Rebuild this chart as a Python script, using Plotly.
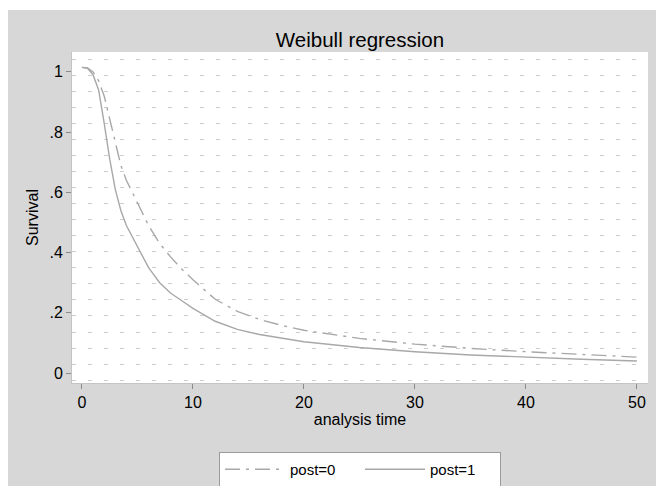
import plotly.graph_objects as go

# analysis time points
t_vals = [0, 0.5, 1, 1.5, 2, 2.5, 3, 3.5, 4, 5, 6, 7, 8, 9, 10, 12, 14, 16, 18, 20, 25, 30, 35, 40, 45, 50]
# survival, post=0 (dash-dot)
surv_post0 = [1.015, 1.013, 1.0, 0.97, 0.92, 0.84, 0.76, 0.69, 0.64, 0.565, 0.49, 0.43, 0.385, 0.345, 0.31,
              0.245, 0.205, 0.178, 0.158, 0.142, 0.115, 0.096, 0.082, 0.071, 0.061, 0.053]
# survival, post=1 (solid)
surv_post1 = [1.015, 1.012, 0.99, 0.94, 0.83, 0.71, 0.61, 0.54, 0.49, 0.42, 0.35, 0.30, 0.265, 0.24, 0.215,
              0.172, 0.145, 0.128, 0.115, 0.104, 0.085, 0.071, 0.060, 0.052, 0.046, 0.040]

x_ticks = [0, 10, 20, 30, 40, 50]
y_ticks = [0, 0.2, 0.4, 0.6, 0.8, 1]
y_tick_text = ["0", ".2", ".4", ".6", ".8", "1"]

fig = go.Figure()
fig.add_trace(go.Scatter(x=t_vals, y=surv_post0, mode="lines", name="post=0",
                         line=dict(color="#a8a8a8", width=1.4, dash="longdashdot")))
fig.add_trace(go.Scatter(x=t_vals, y=surv_post1, mode="lines", name="post=1",
                         line=dict(color="#a8a8a8", width=1.4)))

font = "Liberation Sans, Arial, sans-serif"
L, R, T, B = 64, 24, 44, 111
PW, PH = 664 - L - R, 486 - T - B
fig.update_layout(
    width=664, height=486,
    margin=dict(l=L, r=R, t=T, b=B, autoexpand=False),
    paper_bgcolor="#d7d7d7",
    plot_bgcolor="white",
    font=dict(family=font, size=15, color="black"),
    title=dict(text="Weibull regression", x=(L + PW / 2) / 664, xanchor="center",
               y=1 - 32 / 486, yanchor="middle", font=dict(size=20.5, color="black")),
    showlegend=True,
    legend=dict(orientation="h", x=0.5, xanchor="center", y=(PH - (444 - T)) / PH, yanchor="top",
                bgcolor="white", bordercolor="#9a9a9a", borderwidth=1,
                font=dict(size=15), itemwidth=60, entrywidth=65, traceorder="normal"),
    xaxis=dict(range=[-0.9, 51], tickvals=x_ticks, ticks="outside", ticklen=5,
               tickcolor="#8a8a8a", showgrid=False, zeroline=False, automargin=False,
               showline=True, linecolor="#c4c4c4", linewidth=1,
               title=dict(text="analysis time", standoff=3, font=dict(size=16)),
               tickfont=dict(size=16)),
    yaxis=dict(range=[-0.033, 1.066], tickvals=y_ticks, ticktext=y_tick_text,
               ticks="outside", ticklen=5, tickcolor="#8a8a8a", showgrid=False,
               zeroline=False, showline=True, linecolor="#c4c4c4", linewidth=1,
               automargin=False,
               title=dict(text="Survival", standoff=6, font=dict(size=16)),
               tickfont=dict(size=16),
               minor=dict(tick0=-0.0233, dtick=0.0532, showgrid=True, gridcolor="#cdcdcd",
                          griddash="4px,12px", gridwidth=1, ticks="")),
    shapes=[
        dict(type="rect", xref="paper", yref="paper", x0=-0.2, x1=1.1,
             y0=(PH + T - 2) / PH, y1=1.3, fillcolor="white", line=dict(width=0), layer="below"),
    ],
)

fig.write_html("out.html")
